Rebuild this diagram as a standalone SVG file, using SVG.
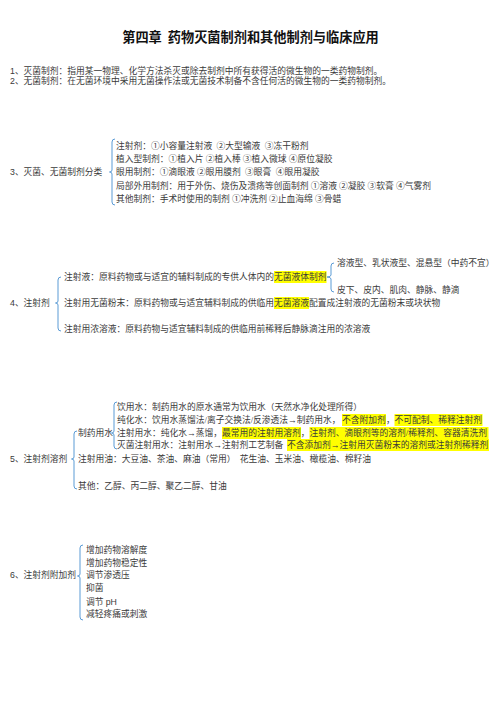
<svg xmlns="http://www.w3.org/2000/svg" width="496" height="702" viewBox="0 0 496 702">
<style>
.t{font-family:"Liberation Serif","Noto Sans CJK SC",serif;font-size:8.75px;fill:#3a3a3a;white-space:pre}
.title{font-family:"Noto Sans CJK SC",sans-serif;font-size:13.2px;font-weight:bold;fill:#111;white-space:pre}
.num{font-family:"Liberation Sans","Noto Sans CJK SC",sans-serif}
.br{fill:none;stroke:#5b9bd5;stroke-width:1}
.hl{fill:#ffff00}
</style>
<rect width="496" height="702" fill="#fff"/>
<text class="title" x="250.5" y="41.5" text-anchor="middle">第四章  药物灭菌制剂和其他制剂与临床应用</text>
<g id="def1"><text class="t" x="10" y="74"><tspan class="num">1</tspan>、灭菌制剂：指用某一物理、化学方法杀灭或除去制剂中所有获得活的微生物的一类药物制剂。</text></g>
<g id="def2"><text class="t" x="10" y="84"><tspan class="num">2</tspan>、无菌制剂：在无菌环境中采用无菌操作法或无菌技术制备不含任何活的微生物的一类药物制剂。</text></g>

<g id="connectors">
<path class="br" d="M115,139 Q112,139 112,142 V170 Q112,172 109.5,172 Q112,172 112,174 V202 Q112,205 115,205"/>
<path class="br" d="M61,277 Q58,277 58,280 V301 Q58,303 55.5,303 Q58,303 58,305 V328 Q58,331 61,331"/>
<path class="br" d="M334,263 Q331,263 331,266 V275 Q331,277 327,277 Q331,277 331,279 V289 Q331,292 334,292"/>
<path class="br" d="M77,431 Q74,431 74,434 V457 Q74,459 71.5,459 Q74,459 74,461 V486 Q74,489 77,489"/>
<path class="br" d="M117,402 Q114,402 114,405 V431 Q114,433 111.5,433 Q114,433 114,435 V446 Q114,449 117,449"/>
<path class="br" d="M83,545 Q80,545 80,548 V574 Q80,576 77.5,576 Q80,576 80,578 V617 Q80,620 83,620"/>
</g>

<g id="sec3">
<text class="t" x="10" y="175"><tspan class="num">3</tspan>、灭菌、无菌制剂分类</text>
<text class="t" x="116" y="149">注射剂：①小容量注射液  ②大型输液  ③冻干粉剂</text>
<text class="t" x="116" y="162">植入型制剂：①植入片 ②植入棒 ③植入微球 ④原位凝胶</text>
<text class="t" x="116" y="175">眼用制剂：①滴眼液 ②眼用膜剂  ③眼膏  ④眼用凝胶</text>
<text class="t" x="116" y="189">局部外用制剂：用于外伤、烧伤及溃疡等创面制剂 ①溶液 ②凝胶 ③软膏 ④气雾剂</text>
<text class="t" x="116" y="202">其他制剂：手术时使用的制剂 ①冲洗剂 ②止血海绵 ③骨蜡</text>
</g>

<g id="sec4">
<text class="t" x="10" y="306"><tspan class="num">4</tspan>、注射剂</text>
<rect class="hl" x="274" y="271" width="52.5" height="12"/>
<text class="t" x="64" y="280">注射液：原料药物或与适宜的辅料制成的专供人体内的<tspan x="274">无菌液体制剂</tspan></text>
<text class="t" x="337" y="266">溶液型、乳状液型、混悬型（中药不宜）</text>
<text class="t" x="337" y="293">皮下、皮内、肌肉、静脉、静滴</text>
<rect class="hl" x="274" y="297" width="35" height="12"/>
<text class="t" x="64" y="306">注射用无菌粉末：原料药物或与适宜辅料制成的供临用<tspan x="274">无菌溶液</tspan><tspan x="309">配置成注射液的无菌粉末或块状物</tspan></text>
<text class="t" x="64" y="332">注射用浓溶液：原料药物与适宜辅料制成的供临用前稀释后静脉滴注用的浓溶液</text>
</g>

<g id="sec5">
<text class="t" x="10" y="462"><tspan class="num">5</tspan>、注射剂溶剂</text>
<text class="t" x="78" y="436">制药用水</text>
<text class="t" x="117" y="410">饮用水：制药用水的原水通常为饮用水（天然水净化处理所得）</text>
<rect class="hl" x="342" y="414" width="44" height="12"/>
<rect class="hl" x="394.5" y="414" width="88" height="12"/>
<text class="t" x="117" y="423">纯化水：饮用水蒸馏法/离子交换法/反渗透法→制药用水，<tspan x="342">不含附加剂</tspan><tspan x="386">，</tspan><tspan x="394.5">不可配制、稀释注射剂</tspan></text>
<rect class="hl" x="222" y="427" width="79" height="12"/>
<rect class="hl" x="309.5" y="427" width="179" height="12"/>
<text class="t" x="117" y="436">注射用水：纯化水→蒸馏，<tspan x="222">最常用的注射用溶剂</tspan><tspan x="300.75">，</tspan><tspan x="309.5">注射剂、滴眼剂等的溶剂/稀释剂、容器清洗剂</tspan></text>
<rect class="hl" x="287" y="439" width="202" height="12"/>
<text class="t" x="117" y="448">灭菌注射用水：注射用水→注射剂工艺制备 <tspan x="287">不含添加剂→注射用灭菌粉末的溶剂或注射剂稀释剂</tspan></text>
<text class="t" x="78" y="462">注射用油：大豆油、茶油、麻油（常用）  花生油、玉米油、橄榄油、棉籽油</text>
<text class="t" x="78" y="489">其他：乙醇、丙二醇、聚乙二醇、甘油</text>
</g>

<g id="sec6">
<text class="t" x="10" y="578"><tspan class="num">6</tspan>、注射剂附加剂</text>
<text class="t" x="86" y="553">增加药物溶解度</text>
<text class="t" x="86" y="566">增加药物稳定性</text>
<text class="t" x="86" y="578">调节渗透压</text>
<text class="t" x="86" y="591">抑菌</text>
<text class="t" x="86" y="605">调节 <tspan class="num">pH</tspan></text>
<text class="t" x="86" y="617">减轻疼痛或刺激</text>
</g>
</svg>
